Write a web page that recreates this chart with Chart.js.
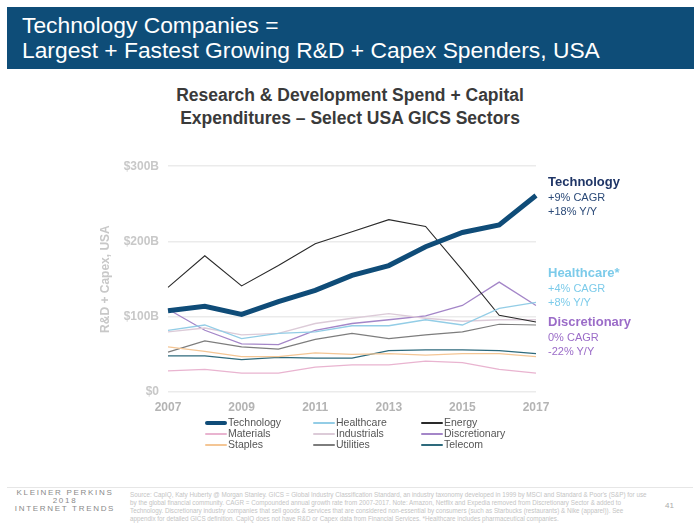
<!DOCTYPE html>
<html>
<head>
<meta charset="utf-8">
<script src="https://cdn.jsdelivr.net/npm/chart.js@4"></script>
<style>
  body { margin: 0; width: 700px; height: 525px; background: #fff; font-family: "Liberation Sans", Arial, sans-serif; position: relative; overflow: hidden; }
  #header { position: absolute; left: 7px; top: 7px; width: 687px; height: 62px; background: #0e4d78; color: #fff; font-size: 22.8px; line-height: 25px; box-sizing: border-box; padding: 6px 0 0 15px; white-space: nowrap; }
  #subtitle { position: absolute; left: 0; top: 84px; width: 700px; text-align: center; font-size: 17.5px; font-weight: bold; color: #3a3a3a; line-height: 23px; }
  #wrap { position: absolute; left: 96px; top: 150px; width: 455px; height: 270px; }
  .note { position: absolute; left: 548px; font-size: 11px; line-height: 14px; }
  .note b { font-size: 13px; display: block; line-height: 16px; }
  #legend { position: absolute; left: 205px; top: 417px; font-size: 10.5px; color: #555; }
  .li { position: absolute; white-space: nowrap; line-height: 11px; }
  .li span { display: inline-block; width: 22px; vertical-align: middle; margin-right: 1px; }
  #footer { position: absolute; left: 7px; top: 487px; width: 686px; border-top: 1px solid #e6e6e6; }
  #kp { position: absolute; left: 13px; top: 489px; width: 104px; text-align: center; font-size: 8px; letter-spacing: 1.7px; color: #8a8a8a; line-height: 8px; white-space: nowrap; }
  #src { position: absolute; left: 130px; top: 491px; width: 520px; font-size: 6.3px; line-height: 8px; color: #c4c4c4; }
  #pg { position: absolute; left: 665px; top: 501px; font-size: 8px; color: #aaa; }
</style>
</head>
<body>
<div id="header">Technology Companies =<br>Largest + Fastest Growing R&amp;D + Capex Spenders, USA</div>
<div id="subtitle">Research &amp; Development Spend + Capital<br>Expenditures – Select USA GICS Sectors</div>
<div id="wrap"><canvas id="c" width="455" height="270"></canvas></div>

<div class="note" style="top:174px;color:#2b4a78;"><b style="color:#1f3566">Technology</b>+9% CAGR<br>+18% Y/Y</div>
<div class="note" style="top:265px;color:#7ccbea;"><b>Healthcare*</b>+4% CAGR<br>+8% Y/Y</div>
<div class="note" style="top:314px;color:#9b6cc8;"><b>Discretionary</b>0% CAGR<br>-22% Y/Y</div>

<div id="legend"></div>
<div id="footer"></div>
<div id="kp">KLEINER PERKINS<br>2018<br>INTERNET TRENDS</div>
<div id="src">Source: CapIQ, Katy Huberty @ Morgan Stanley. GICS = Global Industry Classification Standard, an industry taxonomy developed in 1999 by MSCI and Standard &amp; Poor's (S&amp;P) for use by the global financial community. CAGR = Compounded annual growth rate from 2007-2017. Note: Amazon, Netflix and Expedia removed from Discretionary Sector &amp; added to Technology. Discretionary industry companies that sell goods &amp; services that are considered non-essential by consumers (such as Starbucks (restaurants) &amp; Nike (apparel)). See appendix for detailed GICS definition. CapIQ does not have R&amp;D or Capex data from Financial Services. *Healthcare includes pharmaceutical companies.</div>
<div id="pg">41</div>

<script>
// years and sector spend ($B)
const years = ['2007', '2008', '2009', '2010', '2011', '2012', '2013', '2014', '2015', '2016', '2017'];
const technology = [108, 114, 103, 120, 135, 155, 168, 193, 212, 222, 261];
const healthcare = [82, 89, 71, 78, 80, 88, 88, 96, 89, 111, 119];
const energy = [139, 181, 141, 168, 197, 213, 229, 220, 162, 102, 93];
const materials = [28, 30, 25, 25, 33, 36, 36, 41, 39, 30, 25];
const industrials = [80, 85, 76, 78, 91, 98, 104, 98, 94, 96, 96];
const discretionary = [110, 82, 64, 63, 82, 91, 96, 101, 115, 146, 115];
const staples = [60, 54, 47, 47, 52, 50, 51, 49, 51, 51, 47];
const utilities = [53, 68, 60, 57, 70, 78, 71, 76, 80, 90, 89];
const telecom = [48, 48, 43, 46, 45, 45, 55, 56, 56, 55, 51];
const yTicks = [0, 100, 200, 300];

function series(label, data, color, width) {
    return { label: label, data: data, borderColor: color, backgroundColor: color, borderWidth: width, pointRadius: 0, tension: 0, fill: false };
}

// legend order is row by row (3 columns)
const datasets = [
    series('Technology', technology, '#0f4c78', 5),
    series('Healthcare', healthcare, '#93cde6', 1.3),
    series('Energy', energy, '#2a2a2a', 1.1),
    series('Materials', materials, '#e9b4d0', 1.3),
    series('Industrials', industrials, '#dccbd8', 1.3),
    series('Discretionary', discretionary, '#a486c8', 1.3),
    series('Staples', staples, '#f4c695', 1.3),
    series('Utilities', utilities, '#7d7d7d', 1.2),
    series('Telecom', telecom, '#2e6a7c', 1.3)
];

// draw tech last so it sits on top
const drawOrder = { Technology: -1 };
datasets.forEach(d => { d.order = drawOrder[d.label] || 0; });

const ctx = document.getElementById('c').getContext('2d');
new Chart(ctx, {
    type: 'line',
    data: { labels: years, datasets: datasets },
    options: {
        responsive: false,
        animation: false,
        layout: { padding: { top: 15, right: 15, left: 0, bottom: 0 } },
        plugins: { legend: { display: false }, tooltip: { enabled: false } },
        scales: {
            x: {
                grid: { display: false },
                border: { display: false },
                ticks: {
                    autoSkip: false, maxRotation: 0, padding: 0,
                    color: '#b4b4b4', font: { family: 'Liberation Sans', size: 12, weight: 'bold' },
                    callback: function (v, i) { return i % 2 === 0 ? years[i] : ''; }
                },
                afterFit: function (s) { s.height = 28; }
            },
            y: {
                min: 0, max: 300,
                afterBuildTicks: function (s) { s.ticks = yTicks.map(v => ({ value: v })); },
                grid: { color: '#ebebeb', lineWidth: 1.5, drawTicks: false },
                border: { display: false },
                ticks: {
                    padding: 9, color: '#c8c8c8', font: { family: 'Liberation Sans', size: 12, weight: 'bold' },
                    callback: function (v) { return v === 0 ? '$0' : '$' + v + 'B'; }
                },
                title: { display: true, text: 'R&D + Capex, USA', color: '#c8c8c8', padding: 2, font: { family: 'Liberation Sans', size: 12, weight: 'bold' } },
                afterFit: function (s) { s.width = 72; }
            }
        }
    }
});

// three-column legend
const legend = document.getElementById('legend');
datasets.forEach(function (d, i) {
    const col = i % 3, row = Math.floor(i / 3);
    const el = document.createElement('div');
    el.className = 'li';
    el.style.left = (col * 108) + 'px';
    el.style.top = (row * 11) + 'px';
    el.innerHTML = '<span style="border-top:' + (d.borderWidth > 3 ? 4 : 2) + 'px solid ' + d.borderColor + ';border-radius:2px"></span>' + d.label;
    legend.appendChild(el);
});
</script>
</body>
</html>
